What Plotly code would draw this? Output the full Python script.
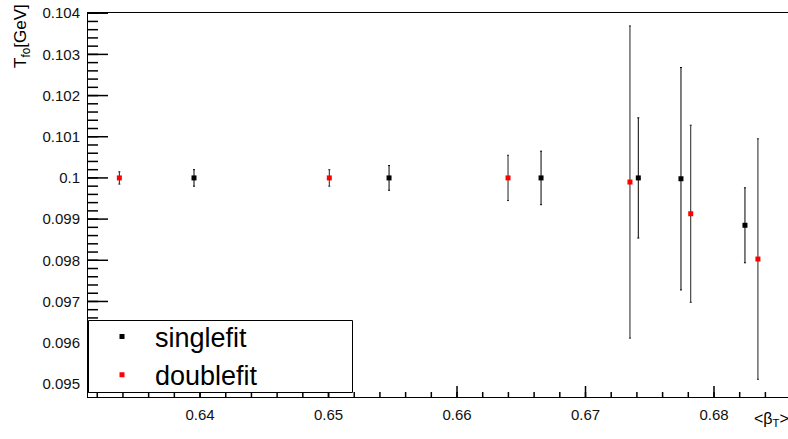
import numpy as np
import plotly.graph_objects as go

# <beta_T> and T_fo values for the two fit variants
single_beta = [0.63953, 0.65471, 0.66654, 0.67411, 0.67743, 0.68241]
single_tfo = [0.10000, 0.10000, 0.10000, 0.10000, 0.09998, 0.09885]
single_err = [0.00020, 0.00030, 0.00065, 0.00146, 0.00270, 0.00091]

double_beta = [0.63372, 0.65006, 0.66397, 0.67346, 0.67819, 0.68342]
double_tfo = [0.10000, 0.10000, 0.10000, 0.09990, 0.09913, 0.09803]
double_err = [0.00015, 0.00020, 0.00055, 0.00379, 0.00215, 0.00292]

x_tick_vals = [0.64, 0.65, 0.66, 0.67, 0.68]
x_tick_text = ["0.64", "0.65", "0.66", "0.67", "0.68"]
y_tick_vals = [0.095, 0.096, 0.097, 0.098, 0.099, 0.100, 0.101, 0.102, 0.103, 0.104]
y_tick_text = ["0.095", "0.096", "0.097", "0.098", "0.099", "0.1",
               "0.101", "0.102", "0.103", "0.104"]

X_RANGE = [0.63128, 0.68576]
Y_RANGE = [0.09468, 0.104005]
X_MINOR_STEP = 0.002
Y_MINOR_STEP = 0.0002

FONT = "Liberation Sans, Arial, Helvetica, sans-serif"
W, H = 788, 439
ML, MR, MT, MB = 88, 0, 13, 42
PW, PH = W - ML - MR, H - MT - MB
X_PER_PX = (X_RANGE[1] - X_RANGE[0]) / PW
Y_PER_PX = (Y_RANGE[1] - Y_RANGE[0]) / PH


def px_x(p):
    return (p - ML) / PW


def px_y(p):
    return (H - MB - p) / PH


fig = go.Figure()

# inward tick marks along the bottom and left frame edges, drawn as one line trace
tx, ty = [], []
for vals, length in ((np.round(np.arange(0.632, X_RANGE[1], X_MINOR_STEP), 4), 5),
                     (x_tick_vals, 11)):
    for v in vals:
        tx += [v, v, None]
        ty += [Y_RANGE[0], Y_RANGE[0] + length * Y_PER_PX, None]
for vals, length in ((np.round(np.arange(0.0948, Y_RANGE[1], Y_MINOR_STEP), 5), 10),
                     (y_tick_vals, 20)):
    for v in vals:
        tx += [X_RANGE[0], X_RANGE[0] + length * X_PER_PX, None]
        ty += [v, v, None]
fig.add_trace(go.Scatter(
    x=tx, y=ty, mode="lines", line=dict(color="black", width=1.5),
    showlegend=False, hoverinfo="skip", cliponaxis=False,
))

fig.add_trace(go.Scatter(
    x=single_beta, y=single_tfo, mode="markers", name="singlefit",
    marker=dict(symbol="square", size=5, color="black"),
    error_y=dict(type="data", array=single_err, color="black", thickness=1, width=1),
))
fig.add_trace(go.Scatter(
    x=double_beta, y=double_tfo, mode="markers", name="doublefit",
    marker=dict(symbol="square", size=5, color="#ff0000"),
    error_y=dict(type="data", array=double_err, color="#222222", thickness=1, width=1),
))

# legend frame
fig.add_shape(type="rect", xref="paper", yref="paper",
              x0=px_x(88.5), x1=px_x(352.5), y0=px_y(392.5), y1=px_y(320.5),
              line=dict(color="black", width=1), fillcolor="white", layer="above")

fig.add_annotation(
    text="T<sub>fo</sub>[GeV]", textangle=-90, xref="paper", yref="paper",
    x=px_x(22), y=px_y(2), xanchor="center", yanchor="top", showarrow=False,
    font=dict(family=FONT, size=17, color="black"),
)
fig.add_annotation(
    text="&lt;β<sub>T</sub>&gt;", xref="paper", yref="paper",
    x=px_x(791), y=px_y(419), xanchor="right", yanchor="middle", showarrow=False,
    font=dict(family=FONT, size=16, color="black"),
)

tick_font = dict(family=FONT, size=15, color="#111111")

fig.update_layout(
    width=W, height=H, autosize=False,
    margin=dict(l=ML, r=MR, t=MT, b=MB, pad=0),
    paper_bgcolor="white", plot_bgcolor="white",
    font=dict(family=FONT, size=15, color="black"),
    showlegend=True,
    legend=dict(
        x=px_x(89), y=px_y(356), xanchor="left", yanchor="middle",
        bgcolor="rgba(0,0,0,0)", borderwidth=0, itemwidth=56,
        font=dict(family=FONT, size=27, color="black"),
    ),
    xaxis=dict(
        range=X_RANGE, showgrid=False, zeroline=False, automargin=False,
        showline=True, linecolor="black", linewidth=1, mirror=True,
        tickmode="array", tickvals=x_tick_vals, ticktext=x_tick_text,
        ticks="", ticklabelstandoff=4, tickfont=tick_font,
    ),
    yaxis=dict(
        range=Y_RANGE, showgrid=False, zeroline=False, automargin=False,
        showline=True, linecolor="black", linewidth=1,
        tickmode="array", tickvals=y_tick_vals, ticktext=y_tick_text,
        ticks="", ticklabelstandoff=4, tickfont=tick_font,
    ),
)

fig.write_html("out.html")
